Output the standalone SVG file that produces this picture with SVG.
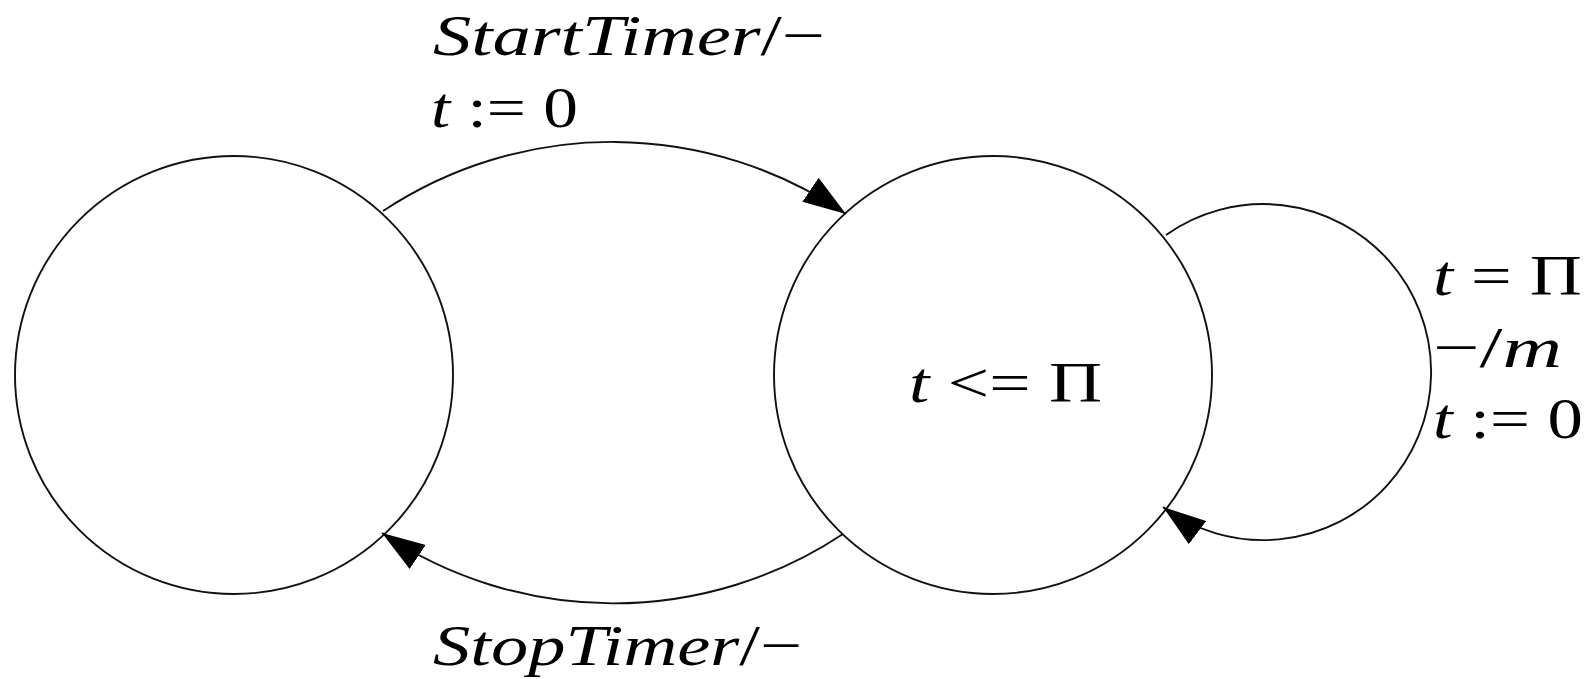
<svg xmlns="http://www.w3.org/2000/svg" width="1596" height="679" viewBox="0 0 1596 679">
  <style>
    .node { fill: none; stroke: #111; stroke-width: 1.9; }
    .edge { fill: none; stroke: #111; stroke-width: 1.9; }
    .lbl { font-family: "Liberation Serif", "DejaVu Serif", serif; font-size: 58px; fill: #000; }
    .it { font-style: italic; }
  </style>
  <defs>
    <marker id="arrow" markerUnits="userSpaceOnUse" markerWidth="43" markerHeight="29" viewBox="0 0 43 29" refX="43" refY="14.5" orient="auto">
      <path d="M0,0 L43,14.5 L0,29 z" fill="#000"/>
    </marker>
  </defs>
  <rect width="1596" height="679" fill="#fff"/>
  <g id="node-idle">
    <circle class="node" cx="234" cy="375" r="219"/>
  </g>
  <g id="node-running">
    <circle class="node" cx="993" cy="375" r="219"/>
    <text class="lbl" x="909" y="402" textLength="193" lengthAdjust="spacingAndGlyphs"><tspan class="it">t</tspan> &lt;= Π</text>
  </g>
  <g id="connectors">
    <path class="edge" d="M383,211 A415,415 0 0 1 846,214" marker-end="url(#arrow)"/>
    <path class="edge" d="M843,534 A415,415 0 0 1 382,533" marker-end="url(#arrow)"/>
    <path class="edge" d="M1166,235 A168,168 0 1 1 1163,507" marker-end="url(#arrow)"/>
  </g>
  <g id="labels">
    <text class="lbl" x="433" y="55" textLength="392" lengthAdjust="spacingAndGlyphs"><tspan class="it">StartTimer</tspan>/−</text>
    <text class="lbl" x="431" y="127" textLength="147" lengthAdjust="spacingAndGlyphs"><tspan class="it">t</tspan> := 0</text>
    <text class="lbl" x="433" y="665" textLength="369" lengthAdjust="spacingAndGlyphs"><tspan class="it">StopTimer</tspan>/−</text>
    <text class="lbl" x="1433" y="295" textLength="149" lengthAdjust="spacingAndGlyphs"><tspan class="it">t</tspan> = Π</text>
    <text class="lbl" x="1433" y="367" textLength="129" lengthAdjust="spacingAndGlyphs">−/<tspan class="it">m</tspan></text>
    <text class="lbl" x="1433" y="438" textLength="150" lengthAdjust="spacingAndGlyphs"><tspan class="it">t</tspan> := 0</text>
  </g>
</svg>
